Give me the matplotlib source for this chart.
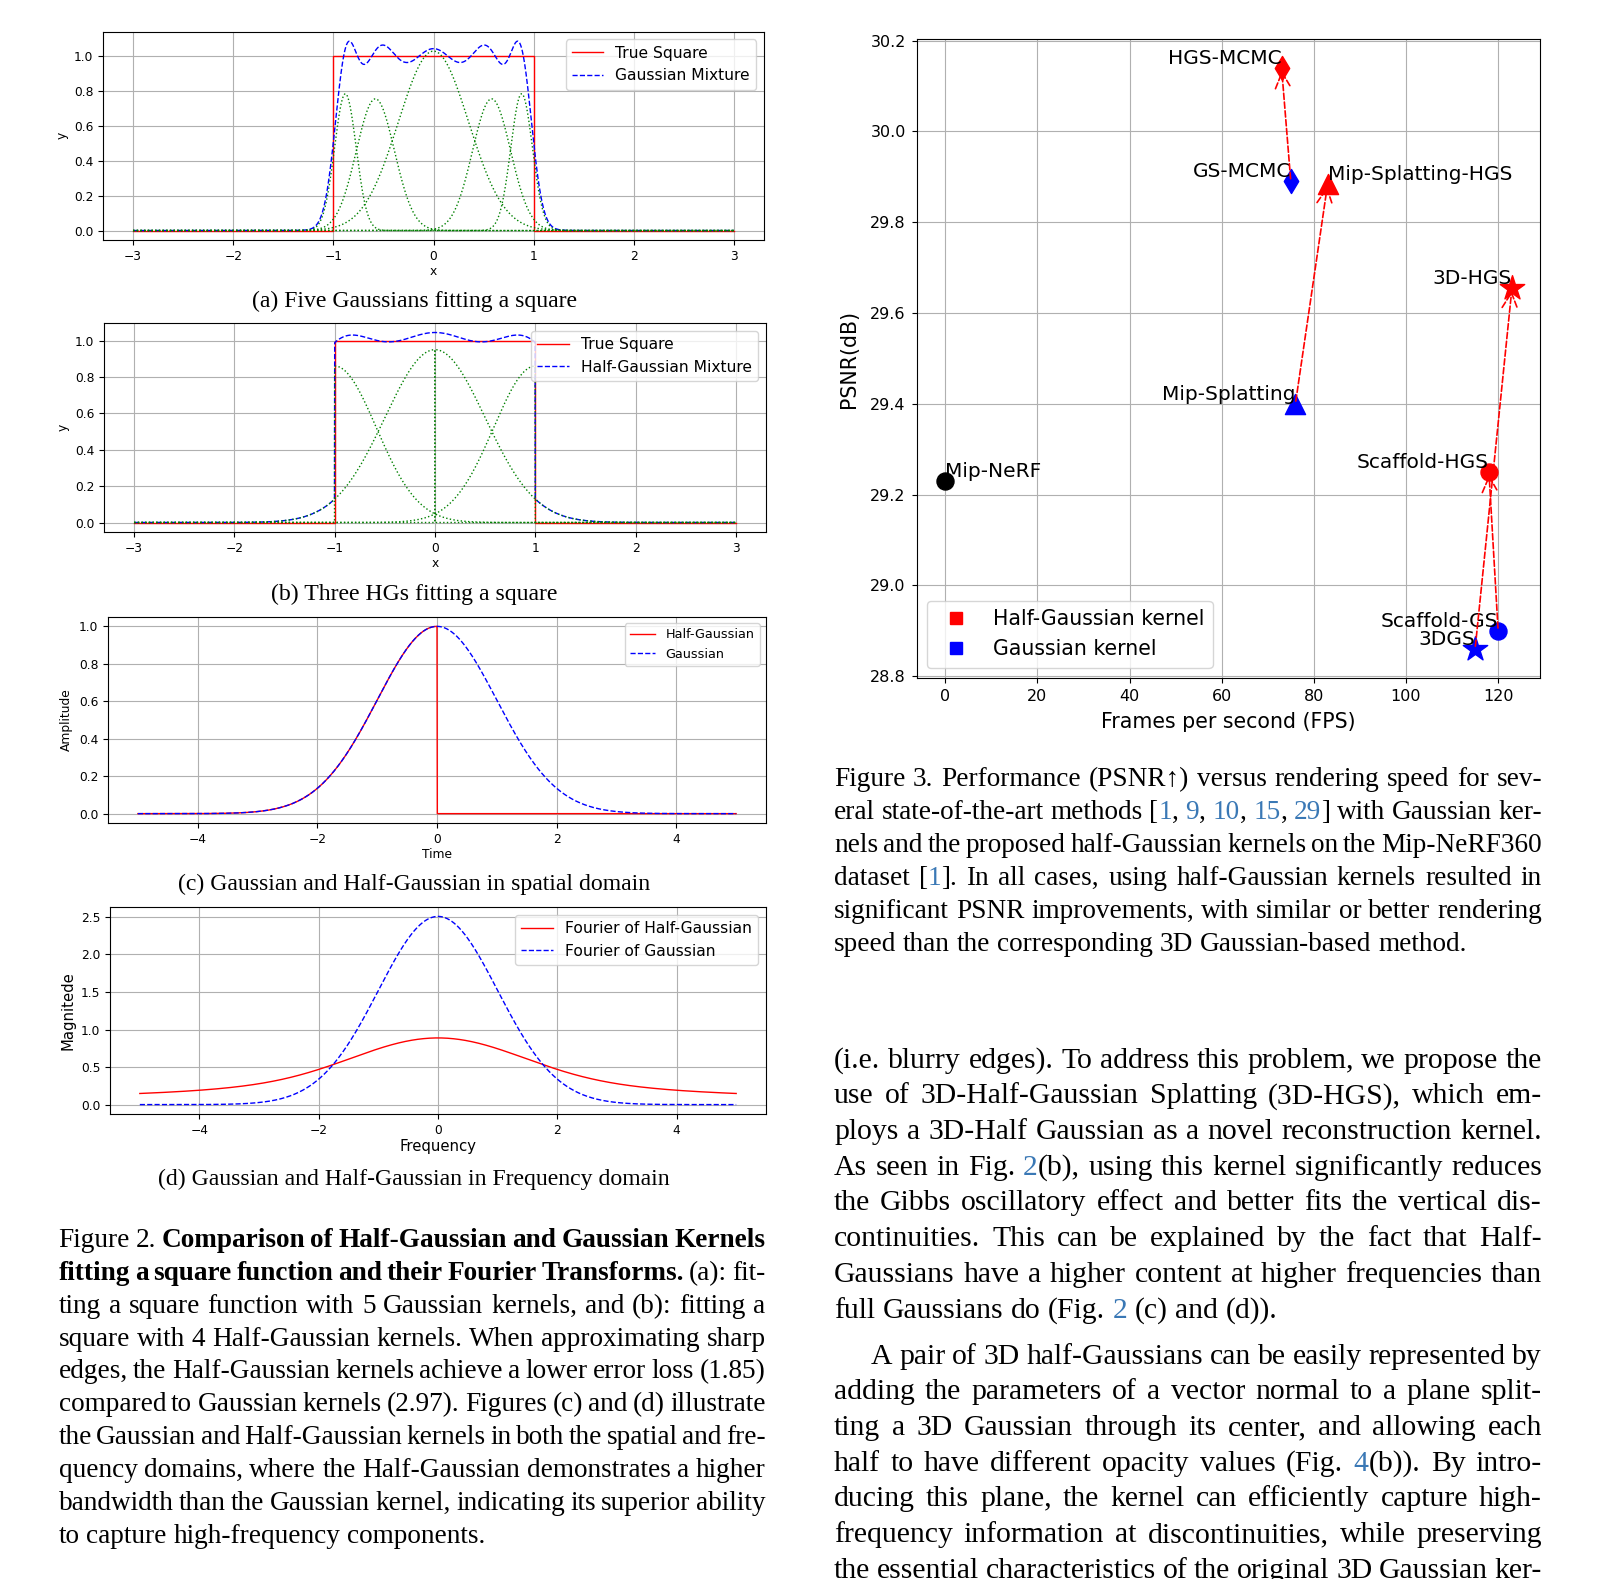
import numpy as np
import matplotlib
matplotlib.use("Agg")
import matplotlib.pyplot as plt
from matplotlib.lines import Line2D

# ---------------------------------------------------------------- data
# (a) five Gaussian kernels fitting the square
a_centers = [-0.88, -0.58, 0.0, 0.58, 0.88]
a_amps = [0.785, 0.756, 1.03, 0.756, 0.785]
a_sigmas = [0.108, 0.19, 0.35, 0.19, 0.108]

# (b) three half-Gaussian pairs (left / right halves)
b_centers = [-1.0, 0.0, 1.0]
b_amp_left = [0.0, 0.95, 0.86]
b_amp_right = [0.86, 0.95, 0.0]
b_sig_left = [0.415, 0.5, 0.415]
b_sig_right = [0.415, 0.5, 0.415]

square_edges = [-1.0, 1.0]
square_range = [-3.0, 3.0]

# (c)/(d) unit Gaussian and its half
c_sigma = 1.0
c_amp = 1.0
c_range = [-5.0, 5.0]
d_half_scale = 0.7071

# Figure 3 scatter
methods = ["Mip-NeRF", "3DGS", "3D-HGS", "GS-MCMC", "HGS-MCMC",
           "Mip-Splatting", "Mip-Splatting-HGS", "Scaffold-GS", "Scaffold-HGS"]
fps = [0, 115, 123, 75, 73, 76, 83, 120, 118]
psnr = [29.23, 28.86, 29.655, 29.89, 30.14, 29.40, 29.885, 28.90, 29.25]
kernel = ["none", "gauss", "half", "gauss", "half", "gauss", "half", "gauss", "half"]
pairs = [("GS-MCMC", "HGS-MCMC"), ("Mip-Splatting", "Mip-Splatting-HGS"),
         ("3DGS", "3D-HGS"), ("Scaffold-GS", "Scaffold-HGS")]

# ---------------------------------------------------------------- styles
W, H, DPI = 1597, 1579, 100
kcolor = {"none": "black", "gauss": "blue", "half": "red"}
mstyle = {"Mip-NeRF": ("o", 150), "3DGS": ("*", 340), "3D-HGS": ("*", 340),
          "GS-MCMC": ("d", 150), "HGS-MCMC": ("d", 150),
          "Mip-Splatting": ("^", 210), "Mip-Splatting-HGS": ("^", 210),
          "Scaffold-GS": ("o", 150), "Scaffold-HGS": ("o", 150)}
lab_ha = {"Mip-NeRF": "left", "Mip-Splatting-HGS": "left"}

fig = plt.figure(figsize=(W / DPI, H / DPI), dpi=DPI)


def rect(l, r, t, b):
    return [l / W, 1 - b / H, (r - l) / W, (b - t) / H]


TICK = 8.8
LW = 1.0

# ---------------------------------------------------------------- (a)
xa = np.linspace(square_range[0], square_range[1], 3001)
sq_x = [square_range[0], square_edges[0], square_edges[0],
        square_edges[1], square_edges[1], square_range[1]]
sq_y = [0, 0, 1, 1, 0, 0]

ax = fig.add_axes(rect(103, 764, 31.7, 240))
comps = [A * np.exp(-(xa - c) ** 2 / (2 * s ** 2))
         for c, A, s in zip(a_centers, a_amps, a_sigmas)]
ax.plot(sq_x, sq_y, color="red", lw=LW, label="True Square")
ax.plot(xa, np.sum(comps, axis=0), color="blue", ls="--", lw=LW,
        label="Gaussian Mixture")
for g in comps:
    ax.plot(xa, g, color="green", ls=":", lw=LW)
ax.grid(True)
ax.tick_params(labelsize=TICK)
ax.set_xlabel("x", fontsize=TICK, labelpad=1.5)
ax.set_ylabel("y", fontsize=TICK)
ax.legend(loc="upper right", fontsize=11.2)

# ---------------------------------------------------------------- (b)
ax = fig.add_axes(rect(104, 766, 323, 532))
halves = []
for c, AL, AR, sL, sR in zip(b_centers, b_amp_left, b_amp_right, b_sig_left, b_sig_right):
    if AL > 0:
        halves.append(np.where(xa < c, AL * np.exp(-(xa - c) ** 2 / (2 * sL ** 2)), 0.0))
    if AR > 0:
        halves.append(np.where(xa >= c, AR * np.exp(-(xa - c) ** 2 / (2 * sR ** 2)), 0.0))
ax.plot(sq_x, sq_y, color="red", lw=LW, label="True Square")
ax.plot(xa, np.sum(halves, axis=0), color="blue", ls="--", lw=LW,
        label="Half-Gaussian Mixture")
for g in halves:
    ax.plot(xa, g, color="green", ls=":", lw=LW)
ax.grid(True)
ax.tick_params(labelsize=TICK)
ax.set_xlabel("x", fontsize=TICK, labelpad=1.5)
ax.set_ylabel("y", fontsize=TICK)
ax.legend(loc="upper right", fontsize=11.2)

# ---------------------------------------------------------------- (c)
xc = np.linspace(c_range[0], c_range[1], 2001)
gauss = c_amp * np.exp(-xc ** 2 / (2 * c_sigma ** 2))
half = np.where(xc <= 0, gauss, 0.0)
ax = fig.add_axes(rect(108, 766, 617, 823))
ax.plot(xc, half, color="red", lw=LW, label="Half-Gaussian")
ax.plot(xc, gauss, color="blue", ls="--", lw=LW, label="Gaussian")
ax.grid(True)
ax.tick_params(labelsize=TICK)
ax.set_xlabel("Time", fontsize=TICK, labelpad=2)
ax.set_ylabel("Amplitude", fontsize=TICK)
ax.legend(loc="upper right", fontsize=9.2)

# ---------------------------------------------------------------- (d)
w = np.linspace(c_range[0], c_range[1], 1001)
xs = np.linspace(-12, 12, 4801)
g_s = c_amp * np.exp(-xs ** 2 / (2 * c_sigma ** 2))
h_s = np.where(xs <= 0, g_s, 0.0)
kern = np.exp(-1j * np.outer(w, xs))
F_g = np.abs(np.trapezoid(kern * g_s, xs, axis=1))
F_h = np.abs(np.trapezoid(kern * h_s, xs, axis=1)) * d_half_scale
ax = fig.add_axes(rect(110, 766, 907, 1114))
ax.plot(w, F_h, color="red", lw=LW, label="Fourier of Half-Gaussian")
ax.plot(w, F_g, color="blue", ls="--", lw=LW, label="Fourier of Gaussian")
ax.grid(True)
ax.tick_params(labelsize=TICK)
ax.set_xlabel("Frequency", fontsize=10.7, labelpad=2)
ax.set_ylabel("Magnitede", fontsize=10.7)
ax.legend(loc="upper right", fontsize=11.2)

# ---------------------------------------------------------------- Figure 3
ax = fig.add_axes(rect(916.9, 1540.3, 38.9, 678))
for m, xv, yv, k in zip(methods, fps, psnr, kernel):
    mk, s = mstyle[m]
    ax.scatter([xv], [yv], marker=mk, s=s, color=kcolor[k], zorder=2)
    ax.text(xv, yv, m, ha=lab_ha.get(m, "right"), va="bottom", fontsize=14.5)
for src, dst in pairs:
    i, j = methods.index(src), methods.index(dst)
    ax.annotate("", xy=(fps[j], psnr[j]), xytext=(fps[i], psnr[i]),
                arrowprops=dict(arrowstyle="->", color="red", ls="--", lw=1.2,
                                mutation_scale=28))
ax.grid(True)
ax.tick_params(labelsize=11.5, pad=4.5)
ax.set_xlabel("Frames per second (FPS)", fontsize=14.8, labelpad=6)
ax.set_ylabel("PSNR(dB)", fontsize=14.8, labelpad=8)
handles = [Line2D([0], [0], marker="s", ls="None", color="red", markersize=8.5,
                  label="Half-Gaussian kernel"),
           Line2D([0], [0], marker="s", ls="None", color="blue", markersize=8.5,
                  label="Gaussian kernel")]
ax.legend(handles=handles, loc="lower left", fontsize=14.8)

# ---------------------------------------------------------------- text
SERIF = ["Liberation Serif", "DejaVu Serif"]
CITE = "#3a78b5"
renderer = fig.canvas.get_renderer()


def props(style, fs):
    return dict(fontsize=fs, family=SERIF,
                weight="bold" if style == "b" else "normal",
                color=CITE if style == "c" else "black")


def measure(s, style, fs):
    t = fig.text(0, 0, s, **props(style, fs))
    wdt = t.get_window_extent(renderer=renderer).width
    t.remove()
    return wdt


def paragraph(lines, x0, x1, base0, step, fs, indent_first=0.0, justify_last=False):
    space = measure("n n", "n", fs) - measure("nn", "n", fs)
    for li, chunks in enumerate(lines):
        words = [[]]
        for text, st in chunks:
            parts = text.split(" ")
            for pi, p in enumerate(parts):
                if pi > 0:
                    words.append([])
                if p:
                    words[-1].append((p, st))
        words = [wd for wd in words if wd]
        if not words:
            continue
        widths = [[measure(r, st, fs) for r, st in wd] for wd in words]
        tot = sum(sum(ws) for ws in widths)
        start = x0 + (indent_first if li == 0 else 0.0)
        last = li == len(lines) - 1
        if (last and not justify_last) or len(words) < 2:
            gap = space
        else:
            gap = (x1 - start - tot) / (len(words) - 1)
        y = base0 + step * li
        x = start
        for wd, ws in zip(words, widths):
            for (r, st), rw in zip(wd, ws):
                fig.text(x / W, 1 - y / H, r, ha="left", va="baseline", **props(st, fs))
                x += rw
            x += gap


def center_text(s, xc, yb, fs):
    fig.text(xc / W, 1 - yb / H, s, ha="center", va="baseline", fontsize=fs, family=SERIF)


SUB = 17.1
center_text("(a) Five Gaussians fitting a square", 414, 307.5, SUB)
center_text("(b) Three HGs fitting a square", 414, 600, SUB)
center_text("(c) Gaussian and Half-Gaussian in spatial domain", 414, 890, SUB)
center_text("(d) Gaussian and Half-Gaussian in Frequency domain", 414, 1185, SUB)

fig2_caption = [
    [("Figure 2. ", "n"), ("Comparison of Half-Gaussian and Gaussian Kernels", "b")],
    [("fitting a square function and their Fourier Transforms.", "b"), (" (a): fit-", "n")],
    [("ting a square function with 5 Gaussian kernels, and (b): fitting a", "n")],
    [("square with 4 Half-Gaussian kernels. When approximating sharp", "n")],
    [("edges, the Half-Gaussian kernels achieve a lower error loss (1.85)", "n")],
    [("compared to Gaussian kernels (2.97). Figures (c) and (d) illustrate", "n")],
    [("the Gaussian and Half-Gaussian kernels in both the spatial and fre-", "n")],
    [("quency domains, where the Half-Gaussian demonstrates a higher", "n")],
    [("bandwidth than the Gaussian kernel, indicating its superior ability", "n")],
    [("to capture high-frequency components.", "n")],
]
paragraph(fig2_caption, 58.5, 765.5, 1247, 32.85, 19.6)

fig3_caption = [
    [("Figure 3. Performance (PSNR\u2191) versus rendering speed for sev-", "n")],
    [("eral state-of-the-art methods [", "n"), ("1", "c"), (", ", "n"), ("9", "c"),
     (", ", "n"), ("10", "c"), (", ", "n"), ("15", "c"), (", ", "n"), ("29", "c"),
     ("] with Gaussian ker-", "n")],
    [("nels and the proposed half-Gaussian kernels on the Mip-NeRF360", "n")],
    [("dataset [", "n"), ("1", "c"), ("]. In all cases, using half-Gaussian kernels resulted in", "n")],
    [("significant PSNR improvements, with similar or better rendering", "n")],
    [("speed than the corresponding 3D Gaussian-based method.", "n")],
]
paragraph(fig3_caption, 834, 1542, 786.5, 32.8, 19.6)

body1 = [
    [("(i.e. blurry edges). To address this problem, we propose the", "n")],
    [("use of 3D-Half-Gaussian Splatting (3D-HGS), which em-", "n")],
    [("ploys a 3D-Half Gaussian as a novel reconstruction kernel.", "n")],
    [("As seen in Fig. ", "n"), ("2", "c"), ("(b), using this kernel significantly reduces", "n")],
    [("the Gibbs oscillatory effect and better fits the vertical dis-", "n")],
    [("continuities. This can be explained by the fact that Half-", "n")],
    [("Gaussians have a higher content at higher frequencies than", "n")],
    [("full Gaussians do (Fig. ", "n"), ("2", "c"), (" (c) and (d)).", "n")],
]
paragraph(body1, 834, 1542, 1067.5, 35.75, 21.45)

body2 = [
    [("A pair of 3D half-Gaussians can be easily represented by", "n")],
    [("adding the parameters of a vector normal to a plane split-", "n")],
    [("ting a 3D Gaussian through its center, and allowing each", "n")],
    [("half to have different opacity values (Fig. ", "n"), ("4", "c"), ("(b)). By intro-", "n")],
    [("ducing this plane, the kernel can efficiently capture high-", "n")],
    [("frequency information at discontinuities, while preserving", "n")],
    [("the essential characteristics of the original 3D Gaussian ker-", "n")],
]
paragraph(body2, 834, 1542, 1363.5, 35.75, 21.45, indent_first=37, justify_last=True)

fig.savefig("out.png", dpi=DPI)
